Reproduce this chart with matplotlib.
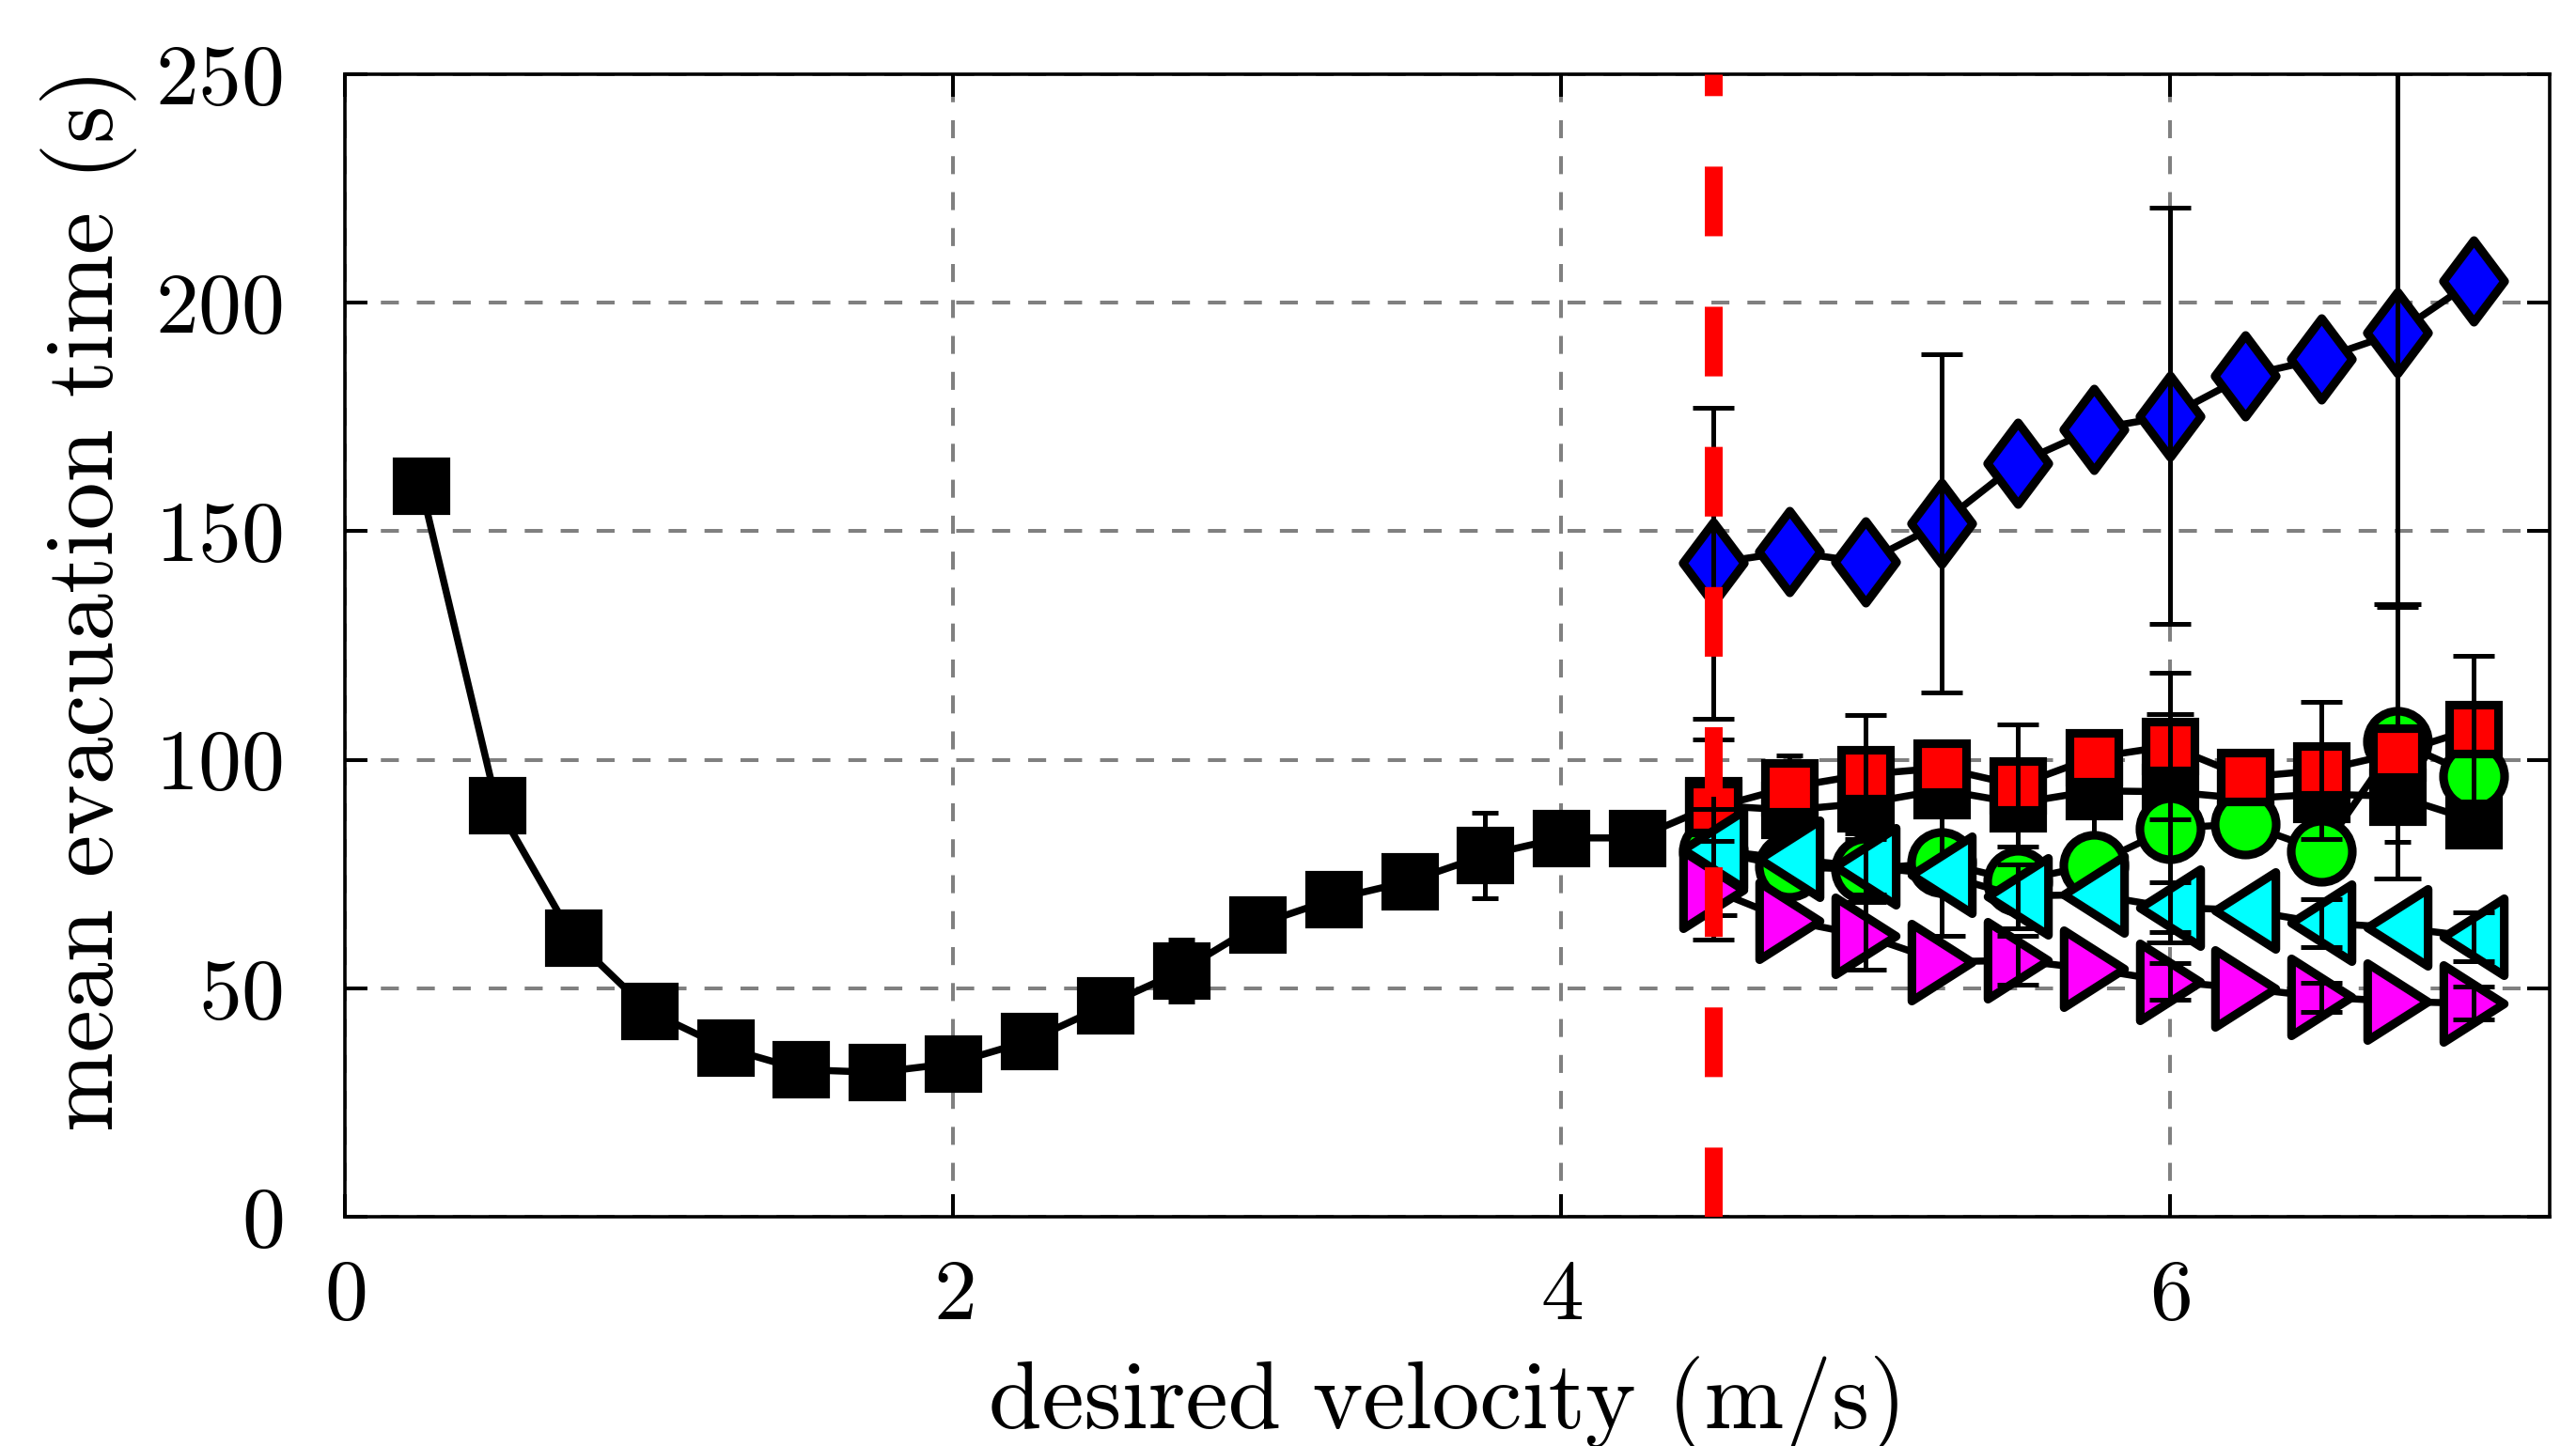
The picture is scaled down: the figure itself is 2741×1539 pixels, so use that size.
import numpy as np
import matplotlib
matplotlib.use('Agg')
import matplotlib.pyplot as plt
from matplotlib.path import Path
from matplotlib.markers import MarkerStyle

plt.rcParams['font.family'] = 'cmr10'
plt.rcParams['mathtext.fontset'] = 'cm'
plt.rcParams['axes.formatter.use_mathtext'] = True

# data
v_slow = [0.25, 0.5, 0.75, 1.0, 1.25, 1.5, 1.75, 2.0, 2.25, 2.5, 2.75, 3.0, 3.25, 3.5,
          3.75, 4.0, 4.25, 4.5, 4.75, 5.0, 5.25, 5.5, 5.75, 6.0, 6.25, 6.5, 6.75, 7.0]
t_black = [160, 90, 61, 45, 37, 32.2, 31.6, 33.6, 38.5, 46.2, 53.8, 63.9, 69.5, 73.4,
           79.1, 82.9, 82.9, 90, 89, 90.5, 93.4, 90.5, 93.2, 93, 91.5, 92.5, 92, 86.7]
err_v_black = [0.75, 1.75, 2.75, 3.75, 4.75, 5.75, 6.75]
err_black = [2, 2, 6.8, 9.3, 12, 13, 10]

v_fast = [4.5, 4.75, 5.0, 5.25, 5.5, 5.75, 6.0, 6.25, 6.5, 6.75, 7.0]
t_red = [89.5, 94, 96.8, 98.2, 94.4, 100.5, 103, 96.2, 97.7, 101.5, 106.8]
t_green = [80, 76.6, 76, 77.5, 73.5, 77, 85, 86, 80, 104, 96.5]
t_cyan = [80.3, 78.3, 76.6, 74.9, 70.2, 70.5, 67.7, 67.1, 64.3, 63.3, 61.3]
t_magenta = [71.5, 64.8, 61.5, 55.8, 56.1, 54.2, 51.5, 50, 48.1, 47.1, 46.7]
t_blue = [143, 145.5, 143.2, 151.8, 164.8, 172.3, 175.2, 184, 187.8, 193.5, 204.8]

err_v_red = [4.5, 5.0, 5.5, 6.0, 6.5, 7.0]
err_red = [15, 13, 13.3, 16, 15, 16]
err_v_green = [4.5, 5.25, 6.0, 6.75]
err_green = [14, 16, 25, 30]
err_v_cyan = [4.5, 5.0, 5.5, 6.0, 6.5, 7.0]
err_cyan = [9, 6, 7, 5.4, 5.3, 5.3]
err_v_magenta = [4.5, 5.0, 5.5, 6.0, 6.5, 7.0]
err_magenta = [10.8, 7.4, 5.4, 4.1, 3.2, 3.6]
err_v_blue = [4.5, 5.25, 6.0, 6.75]
err_blue = [34, 37, 45.5, 60]

v_critical = 4.5

# custom markers
w = 0.3925
tri_left = MarkerStyle(Path([(-w, 0), (w, 0.5), (w, -0.5), (-w, 0)], closed=True), joinstyle='miter')
tri_right = MarkerStyle(Path([(w, 0), (-w, 0.5), (-w, -0.5), (w, 0)], closed=True), joinstyle='miter')
diamond = MarkerStyle(Path([(0, 0.5), (0.375, 0), (0, -0.5), (-0.375, 0), (0, 0.5)], closed=True),
                      joinstyle='miter')

fig = plt.figure(figsize=(13.705, 7.695))
ax = fig.add_axes([0.1339, 0.1585, 0.8559, 0.7902])

series = [
    (v_slow, t_black, err_v_black, err_black, 's', 18.9, 'black', 5.2),
    (v_fast, t_green, err_v_green, err_green, 'o', 23.4, '#00ff00', 9.0),
    (v_fast, t_red, err_v_red, err_red, 's', 18.9, '#ff0000', 8.0),
    (v_fast, t_cyan, err_v_cyan, err_cyan, tri_left, 29.5, '#00ffff', 8.0),
    (v_fast, t_magenta, err_v_magenta, err_magenta, tri_right, 29.5, '#ff00ff', 8.0),
    (v_fast, t_blue, err_v_blue, err_blue, diamond, 31.3, '#0000ff', 8.0),
]

for i, (xs, ys, ev, ee, mk, ms, fc, cs) in enumerate(series):
    z = 2 + i
    ax.plot(xs, ys, color='black', lw=2.7, marker=mk, ms=ms, mfc=fc, mec='black',
            mew=3.3, zorder=z)
    xs = np.array(xs)
    ys = np.array(ys)
    sel = np.isin(xs, ev)
    ax.errorbar(xs[sel], ys[sel], yerr=ee, fmt='none', ecolor='black', elinewidth=1.8,
                capsize=cs, capthick=1.8, zorder=z + 0.5)

ax.axvline(v_critical, color='#ff0000', lw=6.84, linestyle=(0, (3.9, 3.95)), zorder=20)

ax.set_xlim(0, 7.25)
ax.set_ylim(0, 250)
ax.set_xticks([0, 2, 4, 6])
ax.set_yticks([0, 50, 100, 150, 200, 250])

ax.grid(True, color='#808080', lw=1.45, linestyle=(0, (4.75, 4.75)))
ax.set_axisbelow(True)

ax.tick_params(direction='in', length=8.6, width=1.45, top=True, right=True, labelsize=33)
ax.tick_params(axis='x', pad=16.4)
ax.tick_params(axis='y', pad=23.8)
for sp in ax.spines.values():
    sp.set_linewidth(1.3)

ax.set_xlabel('desired velocity (m/s)', fontsize=36.6)
ax.set_ylabel('mean evacuation time (s)', fontsize=36.6)
ax.xaxis.set_label_coords(0.5, -0.1217)
ax.yaxis.set_label_coords(-0.0942, 0.54)

fig.savefig('out.png', dpi=200)
